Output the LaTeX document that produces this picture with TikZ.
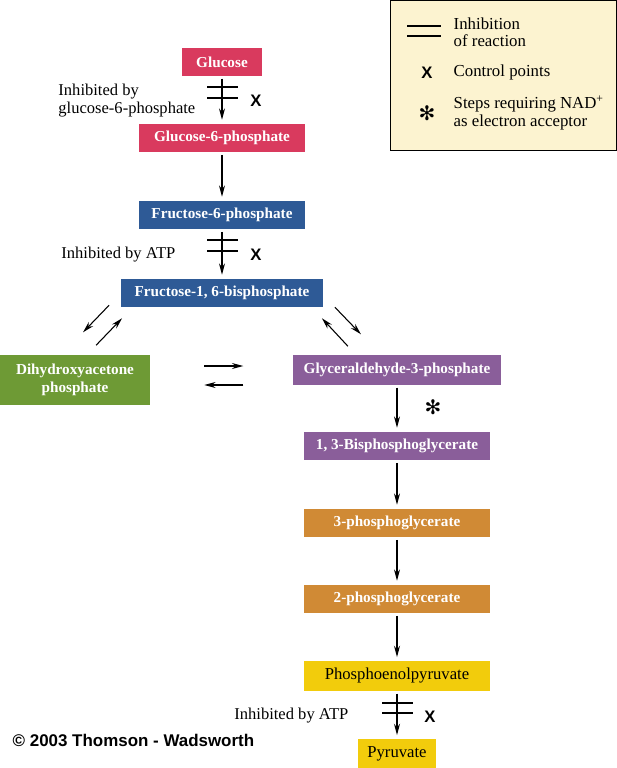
\documentclass[tikz,border=0pt]{standalone}
\usepackage{fontspec}
\setmainfont{Liberation Serif}
\newfontfamily\cpfont{Liberation Sans}
\newfontfamily\symfont{DejaVu Sans}
\usetikzlibrary{arrows.meta,calc}

\definecolor{glcred}{HTML}{D93A5E}
\definecolor{fblue}{HTML}{2E5A96}
\definecolor{dgreen}{HTML}{6E9A35}
\definecolor{gpurple}{HTML}{8A5E9A}
\definecolor{porange}{HTML}{D08A35}
\definecolor{pyellow}{HTML}{F2CC0C}
\definecolor{legendbg}{HTML}{FCF3D0}

\tikzset{
  met/.style={inner sep=0pt, minimum height=21pt, text=white,
    font=\fontsize{11.4}{13}\selectfont\bfseries},
  metlight/.style={met, fill=pyellow, text=black, font=\fontsize{12.5}{13}\selectfont},
  rxn/.style={-{Stealth[length=8.5pt,width=4.5pt]}, line width=0.8pt},
  bar/.style={line width=1.3pt},
  note/.style={font=\fontsize{12.4}{13.5}\selectfont, align=left, anchor=east},
  legtext/.style={font=\fontsize{12.6}{13}\selectfont, align=left, anchor=west},
  ctrl/.style={font=\cpfont\bfseries\fontsize{12.5}{14}\selectfont},
  star/.style={font=\symfont\bfseries\fontsize{15}{15}\selectfont},
}

\begin{document}
\begin{tikzpicture}[x=0.75pt,y=-0.75pt]
  \useasboundingbox (0,0) rectangle (617,768);

  %%%%% LEGEND %%%%%
  \draw[fill=legendbg, line width=0.6pt] (390.5,0.5) rectangle (616.5,150);
  \draw[bar] (407,26) -- (441,26);
  \draw[bar] (407,36) -- (441,36);
  \node[legtext] (leginh) at (449,32) {Inhibition\\of reaction};
  \node[ctrl] (legx) at (427,73) {X};
  \node[legtext] (legctrl) at (449,72) {Control points};
  \node[star] (legstar) at (427,113) {✻};
  \node[legtext] (legnad) at (449,113) {Steps requiring NAD\textsuperscript{+}\\as electron acceptor};

  %%%%% METABOLITES %%%%%
  \node[met, fill=glcred, minimum width=60pt, minimum height=20.5pt] (glc) at (222,62) {Glucose};
  \node[met, fill=glcred, minimum width=124pt] (gsixp) at (222,138) {Glucose-6-phosphate};
  \node[met, fill=fblue, minimum width=124pt] (fsixp) at (222,215) {Fructose-6-phosphate};
  \node[met, fill=fblue, minimum width=151pt] (fbp) at (222,293) {Fructose-1, 6-bisphosphate};
  \node[met, fill=dgreen, minimum width=112.5pt, minimum height=37pt, align=center] (dhap) at (75,380) {Dihydroxyacetone\\phosphate};
  \node[met, fill=gpurple, minimum width=156pt, minimum height=22pt] (gap) at (397,370) {Glyceraldehyde-3-phosphate};
  \node[met, fill=gpurple, minimum width=140pt] (bpg) at (397,446) {1, 3-Bisphosphoglycerate};
  \node[met, fill=porange, minimum width=140pt] (tpg) at (397,523) {3-phosphoglycerate};
  \node[met, fill=porange, minimum width=140pt] (ppg) at (397,599) {2-phosphoglycerate};
  \node[metlight, minimum width=140pt, minimum height=22pt] (pep) at (397,676) {Phosphoenolpyruvate};
  \node[metlight, minimum width=59pt, minimum height=22pt] (pyr) at (397,754) {Pyruvate};

  %%%%% REACTIONS %%%%%
  \draw[rxn, shorten <=2pt, shorten >=3pt] (glc.south) -- (gsixp.north);
  \draw[bar] ($(glc.south)+(-15,11)$) -- +(31,0);
  \draw[bar] ($(glc.south)+(-15,22)$) -- +(31,0);
  \node[ctrl] (xglc) at (256,101) {X};
  \node[note] (inhglc) at (200,101) {Inhibited by\\glucose-6-phosphate};

  \draw[rxn, shorten <=2pt, shorten >=3pt] (gsixp.south) -- (fsixp.north);

  \draw[rxn, shorten <=2pt, shorten >=3pt] (fsixp.south) -- (fbp.north);
  \draw[bar] ($(fsixp.south)+(-15,11)$) -- +(31,0);
  \draw[bar] ($(fsixp.south)+(-15,22)$) -- +(31,0);
  \node[ctrl] (xfsixp) at (256,255) {X};
  \node[note] (inhfsixp) at (180,255) {Inhibited by ATP};

  % aldolase split
  \draw[rxn] ($(fbp.south west)+(-12,-2)$) -- ($(fbp.south west)+(-38,25)$);
  \draw[rxn] ($(fbp.south west)+(-25,38)$) -- ($(fbp.south west)+(1,11)$);
  \draw[rxn] ($(fbp.south east)+(12,0)$) -- ($(fbp.south east)+(38,27)$);
  \draw[rxn] ($(fbp.south east)+(25,39)$) -- ($(fbp.south east)+(-1,11)$);

  % isomerase
  \draw[rxn] ($(dhap.east)+(54,-14)$) -- ($(dhap.east)+(93,-14)$);
  \draw[rxn] ($(dhap.east)+(93,5)$) -- ($(dhap.east)+(54,5)$);

  \draw[rxn, shorten <=2pt, shorten >=3pt] (gap.south) -- (bpg.north);
  \node[star] (stargap) at (433,407) {✻};
  \draw[rxn, shorten <=2pt, shorten >=3pt] (bpg.south) -- (tpg.north);
  \draw[rxn, shorten <=2pt, shorten >=3pt] (tpg.south) -- (ppg.north);
  \draw[rxn, shorten <=2pt, shorten >=3pt] (ppg.south) -- (pep.north);

  \draw[rxn, shorten <=2pt, shorten >=3pt] (pep.south) -- (pyr.north);
  \draw[bar] ($(pep.south)+(-15,12)$) -- +(31,0);
  \draw[bar] ($(pep.south)+(-15,22)$) -- +(31,0);
  \node[ctrl] (xpep) at (430,717) {X};
  \node[note] (inhpep) at (353,716) {Inhibited by ATP};

  \node[anchor=west, font=\cpfont\bfseries\fontsize{12.7}{14}\selectfont] (copy) at (8,740) {© 2003 Thomson - Wadsworth};
\end{tikzpicture}
\end{document}
